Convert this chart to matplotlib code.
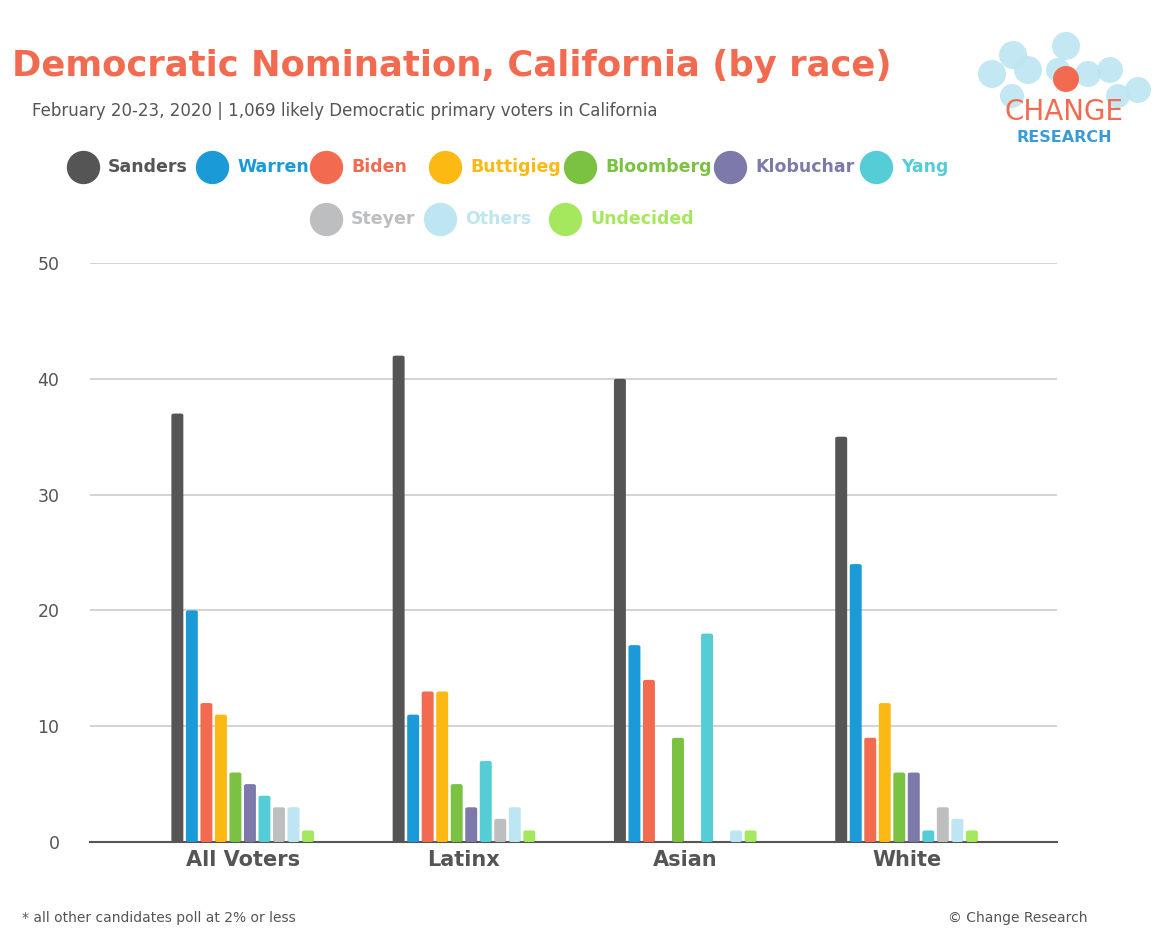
import numpy as np
import matplotlib.pyplot as plt
from matplotlib.patches import FancyBboxPatch, Ellipse
from matplotlib.lines import Line2D

groups = ["All Voters", "Latinx", "Asian", "White"]
candidates = ["Sanders", "Warren", "Biden", "Buttigieg", "Bloomberg", "Klobuchar",
              "Yang", "Steyer", "Others", "Undecided"]
colors = ["#555555", "#1a9bd7", "#f26b50", "#fdb913", "#7cc242", "#7d7aab",
          "#55cdd6", "#bcbec0", "#bde5f2", "#a5e85e"]
# rows = candidates, cols = groups
values = np.array([
    [37, 42, 40, 35],
    [20, 11, 17, 24],
    [12, 13, 14, 9],
    [11, 13, 0, 12],
    [6, 5, 9, 6],
    [5, 3, 0, 6],
    [4, 7, 18, 1],
    [3, 2, 0, 3],
    [3, 3, 1, 2],
    [1, 1, 1, 1],
])

W, H = 1167, 949
fig = plt.figure(figsize=(W / 100, H / 100), dpi=100)
ax = fig.add_axes([90 / W, 1 - 842 / H, (1057 - 90) / W, (842 - 263) / H])

step = 0.0656
bw = 0.054
x = np.arange(len(groups))
for i, cand in enumerate(candidates):
    for j in range(len(groups)):
        v = values[i, j]
        if v <= 0:
            continue
        xc = x[j] + (i - 4.5) * step
        ax.add_patch(FancyBboxPatch((xc - bw / 2, 0), bw, v,
                                    boxstyle="round,pad=0,rounding_size=0.012",
                                    mutation_aspect=12, fc=colors[i], ec="none", zorder=3))

ax.set_xlim(-0.69, 3.68)
ax.set_ylim(0, 50)
ax.set_yticks([0, 10, 20, 30, 40, 50])
ax.grid(axis="y", color="#cccccc", lw=1.2, zorder=0)
ax.set_xticks(x)
ax.set_xticklabels(groups, fontsize=15, fontweight="bold", color="#555555")
ax.tick_params(axis="x", length=0, pad=6)
ax.tick_params(axis="y", length=0, labelsize=12.5, colors="#555555", pad=22)
for s in ["top", "right", "left"]:
    ax.spines[s].set_visible(False)
ax.spines["bottom"].set_color("#555555")
ax.spines["bottom"].set_linewidth(1.5)

fig.text(12 / W, 1 - 66 / H, "Democratic Nomination, California (by race)",
         fontsize=25.5, fontweight="bold", color="#f26b50", va="center")
fig.text(32 / W, 1 - 111 / H, "February 20-23, 2020 | 1,069 likely Democratic primary voters in California",
         fontsize=12, color="#555555", va="center")

# legend
row1 = [(83, 0), (212, 1), (326, 2), (445, 3), (580, 4), (730, 5), (876, 6)]
row2 = [(326, 7), (440, 8), (565, 9)]
for yy, row in [(167, row1), (219, row2)]:
    for px, i in row:
        fig.add_artist(Line2D([px / W], [1 - yy / H], marker="o", ms=24,
                              color=colors[i], mec="none"))
        fig.text((px + 25) / W, 1 - yy / H, candidates[i], fontsize=12.5,
                 fontweight="bold", color=colors[i], va="center")

# logo
for cx, cy, r in [(992, 74, 14), (1013, 55, 14), (1028, 70, 14), (1066, 46, 14),
                  (1058, 70, 12), (1088, 74, 13), (1110, 70, 13), (1138, 90, 13),
                  (1012, 96, 12), (1118, 96, 12)]:
    fig.add_artist(Ellipse((cx / W, 1 - cy / H), 2 * r / W, 2 * r / H,
                           transform=fig.transFigure, fc="#bde5f2", ec="none", alpha=0.9))
fig.add_artist(Ellipse((1066 / W, 1 - 79 / H), 26 / W, 26 / H, transform=fig.transFigure,
                       fc="#f26b50", ec="none"))
fig.text(1064 / W, 1 - 112 / H, "CHANGE", fontsize=20, color="#f26b50",
         ha="center", va="center")
fig.text(1064 / W, 1 - 137 / H, "RESEARCH", fontsize=11.5, fontweight="bold",
         color="#3a9bd5", ha="center", va="center")

fig.text(22 / W, 1 - 918 / H, "* all other candidates poll at 2% or less",
         fontsize=10, color="#555555", va="center")
fig.text(1088 / W, 1 - 918 / H, "© Change Research", fontsize=10,
         color="#555555", va="center", ha="right")

fig.savefig("out.png", dpi=100)
